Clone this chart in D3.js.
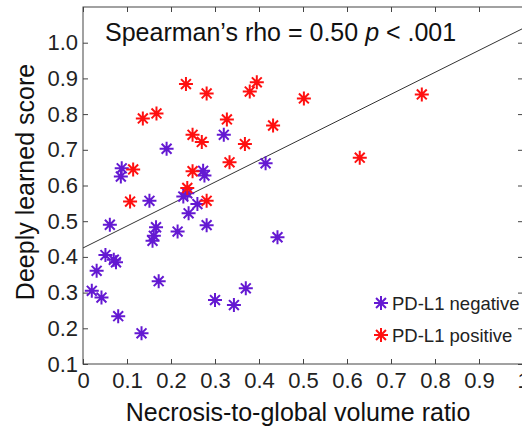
<!DOCTYPE html>
<html><head><meta charset="utf-8">
<script src="https://cdn.jsdelivr.net/npm/d3@7"></script>
<style>body{margin:0;background:#fff}svg{display:block}text{font-family:"Liberation Sans",Arial,sans-serif}</style>
</head><body><svg id="c" width="522" height="427"></svg>
<script>
const xTicks = [0,0.1,0.2,0.3,0.4,0.5,0.6,0.7,0.8,0.9,1];
const xTickLabels = ["0","0.1","0.2","0.3","0.4","0.5","0.6","0.7","0.8","0.9","1"];
const yTicks = [0.1,0.2,0.3,0.4,0.5,0.6,0.7,0.8,0.9,1.0];
const yTickLabels = ["0.1","0.2","0.3","0.4","0.5","0.6","0.7","0.8","0.9","1.0"];
const seriesNames = ["PD-L1 negative","PD-L1 positive"];
const negX = [0.320,0.190,0.088,0.086,0.273,0.276,0.228,0.237,0.151,0.260,0.240,0.061,0.166,0.161,0.158,0.215,0.281,0.051,0.070,0.075,0.031,0.172,0.020,0.042,0.080,0.133,0.300,0.442,0.370,0.343,0.415];
const negY = [0.742,0.703,0.648,0.625,0.641,0.628,0.569,0.578,0.557,0.548,0.522,0.490,0.483,0.459,0.445,0.471,0.489,0.405,0.392,0.385,0.361,0.332,0.305,0.286,0.234,0.186,0.279,0.455,0.312,0.265,0.662];
const posX = [0.234,0.281,0.136,0.167,0.327,0.249,0.270,0.114,0.249,0.237,0.107,0.281,0.333,0.395,0.379,0.502,0.432,0.368,0.629,0.770];
const posY = [0.884,0.858,0.788,0.802,0.785,0.742,0.722,0.645,0.640,0.593,0.555,0.557,0.665,0.889,0.863,0.844,0.768,0.716,0.678,0.855];
const fitX = [0, 1];
const fitY = [0.425, 1.04];
const titleText = "Spearman\u2019s rho = 0.50 ";

const svg = d3.select("#c");
const L = 83, R = 523, T = 7, B = 364;
const x = d3.scaleLinear().domain([0,1]).range([L,R]);
const y = d3.scaleLinear().domain([0.1,1.1]).range([B,T]);
const axisCol = "#444";
const negCol = "#6419d2", posCol = "#ff1010";

// box
svg.append("rect").attr("x",L).attr("y",T).attr("width",R-L).attr("height",B-T)
  .attr("fill","none").attr("stroke",axisCol).attr("stroke-width",1);

// ticks (inside)
const tl = 5;
const gb = svg.append("g").attr("transform",`translate(0,${B})`)
  .call(d3.axisBottom(x).tickValues(xTicks).tickSizeInner(-tl).tickSizeOuter(0).tickPadding(8).tickFormat((d,i)=>xTickLabels[i]));
const gt = svg.append("g").attr("transform",`translate(0,${T})`)
  .call(d3.axisTop(x).tickValues(xTicks).tickSizeInner(-tl).tickSizeOuter(0).tickFormat(""));
const gl = svg.append("g").attr("transform",`translate(${L},0)`)
  .call(d3.axisLeft(y).tickValues(yTicks).tickSizeInner(-tl).tickSizeOuter(0).tickPadding(5).tickFormat((d,i)=>yTickLabels[i]));
const gr = svg.append("g").attr("transform",`translate(${R},0)`)
  .call(d3.axisRight(y).tickValues(yTicks).tickSizeInner(-tl).tickSizeOuter(0).tickFormat(""));
[gb,gt,gl,gr].forEach(g=>{
  g.select(".domain").remove();
  g.selectAll("line").attr("stroke",axisCol);
  g.selectAll("text").attr("fill","#222").style("font-size","22px").style("font-family",'"Liberation Sans",Arial,sans-serif');
});
gb.selectAll("text").attr("dy","0.71em");

// fit line
svg.append("line").attr("x1",x(fitX[0])).attr("y1",y(fitY[0])).attr("x2",x(fitX[1])).attr("y2",y(fitY[1]))
  .attr("stroke","#333").attr("stroke-width",1);

// markers
function star(cx,cy,r){
  const d = r*Math.SQRT1_2;
  return `M${cx-r},${cy}L${cx+r},${cy}M${cx},${cy-r}L${cx},${cy+r}M${cx-d},${cy-d}L${cx+d},${cy+d}M${cx-d},${cy+d}L${cx+d},${cy-d}`;
}
const neg = negX.map((v,i)=>[v,negY[i]]);
const pos = posX.map((v,i)=>[v,posY[i]]);
svg.append("g").selectAll("path").data(neg).join("path")
  .attr("d",d=>star(x(d[0]),y(d[1]),7)).attr("stroke",negCol).attr("stroke-width",2).attr("fill","none");
svg.append("g").selectAll("path").data(pos).join("path")
  .attr("d",d=>star(x(d[0]),y(d[1]),7)).attr("stroke",posCol).attr("stroke-width",2).attr("fill","none");

// title
const t = svg.append("text").attr("x",105).attr("y",41).attr("fill","#111").style("font-size","25px");
t.append("tspan").text(titleText);
t.append("tspan").attr("font-style","italic").text("p");
t.append("tspan").text(" < .001");

// axis labels
svg.append("text").attr("x",(L+R)/2-5).attr("y",421).attr("text-anchor","middle").attr("fill","#111")
  .style("font-size","25px").text("Necrosis-to-global volume ratio");
svg.append("text").attr("transform","translate(34,182) rotate(-90)").attr("text-anchor","middle").attr("fill","#111")
  .style("font-size","25px").text("Deeply learned score");

// legend
const legY = [303,335], legCols=[negCol,posCol];
seriesNames.forEach((n,i)=>{
  svg.append("path").attr("d",star(381,legY[i],7)).attr("stroke",legCols[i]).attr("stroke-width",2).attr("fill","none");
  svg.append("text").attr("x",392).attr("y",legY[i]+6.5).attr("fill","#222").style("font-size","18.5px").text(n);
});
</script></body></html>
